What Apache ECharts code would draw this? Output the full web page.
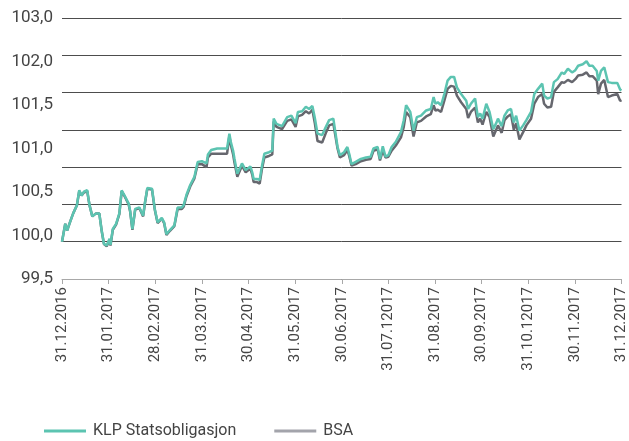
<!DOCTYPE html>
<html>
<head>
<meta charset="utf-8">
<script src="https://cdn.jsdelivr.net/npm/echarts@6/dist/echarts.min.js"></script>
<style>
    html, body { margin: 0; padding: 0; background: #fff; }
    #chart01 { width: 629px; height: 441px; }
</style>
</head>
<body>
<div id="chart01"></div>
<script>
// x-labels (one per month end), y-labels as printed in the original
var monthLabels = ['31.12.2016', '31.01.2017', '28.02.2017', '31.03.2017', '30.04.2017', '31.05.2017',
    '30.06.2017', '31.07.12017', '31.08.2017', '30.09.2017', '31.10.12017', '30.11.2017', '31.12.2017'];
var yLabels = ['99,5', '100,0', '100,5', '101,0', '101,5', '102,0', '103,0'];

// position in months since 31.12.2016
var months = [0.00, 0.07, 0.11, 0.17, 0.24, 0.32, 0.37, 0.42, 0.47, 0.54, 0.59, 0.65, 0.73, 0.80, 0.85, 0.90, 0.96,
    1.02, 1.04, 1.09, 1.16, 1.23, 1.28, 1.35, 1.43, 1.46, 1.51, 1.57, 1.66, 1.74, 1.78, 1.83, 1.93, 1.99,
    2.05, 2.14, 2.19, 2.24, 2.32, 2.41, 2.48, 2.57, 2.61, 2.67, 2.75, 2.84, 2.91,
    3.00, 3.10, 3.13, 3.20, 3.33, 3.43, 3.54, 3.59, 3.62, 3.67, 3.70, 3.76, 3.79, 3.86, 3.94,
    4.04, 4.08, 4.11, 4.18, 4.24, 4.29, 4.34, 4.44, 4.51, 4.54, 4.60, 4.72, 4.83, 4.92,
    5.01, 5.06, 5.15, 5.23, 5.30, 5.37, 5.42, 5.48, 5.58, 5.66, 5.73, 5.82, 5.91, 5.96,
    6.05, 6.12, 6.16, 6.21, 6.30, 6.41, 6.52, 6.62, 6.68, 6.77, 6.82, 6.88, 6.94,
    7.00, 7.07, 7.16, 7.27, 7.33, 7.38, 7.47, 7.54, 7.61, 7.70, 7.81, 7.91, 7.97,
    8.01, 8.06, 8.13, 8.20, 8.27, 8.34, 8.41, 8.47, 8.56, 8.67, 8.71, 8.77, 8.86, 8.92, 8.97,
    9.02, 9.10, 9.17, 9.25, 9.32, 9.35, 9.43, 9.49, 9.56, 9.63, 9.69, 9.74, 9.81, 9.89, 9.96,
    10.06, 10.13, 10.21, 10.30, 10.34, 10.41, 10.49, 10.55, 10.63, 10.72, 10.77, 10.85, 10.94,
    11.01, 11.07, 11.17, 11.25, 11.31, 11.38, 11.47, 11.50, 11.56, 11.63, 11.71, 11.79, 11.91, 11.97, 12.00];

var klp = [100.00, 100.24, 100.15, 100.26, 100.38, 100.49, 100.69, 100.62, 100.67, 100.69, 100.49, 100.34, 100.38, 100.38, 100.15, 99.97, 99.95,
    100.04, 99.96, 100.17, 100.24, 100.38, 100.69, 100.61, 100.51, 100.42, 100.17, 100.44, 100.46, 100.35, 100.53, 100.72, 100.71, 100.44,
    100.26, 100.32, 100.26, 100.10, 100.16, 100.22, 100.46, 100.46, 100.49, 100.63, 100.76, 100.87, 101.07,
    101.08, 101.05, 101.17, 101.23, 101.25, 101.25, 101.25, 101.45, 101.34, 101.22, 101.11, 100.91, 100.89, 101.05, 100.96,
    101.01, 100.93, 100.84, 100.84, 100.83, 101.02, 101.18, 101.20, 101.22, 101.65, 101.58, 101.55, 101.67, 101.69,
    101.59, 101.74, 101.75, 101.81, 101.78, 101.82, 101.67, 101.45, 101.43, 101.54, 101.63, 101.65, 101.27, 101.16,
    101.20, 101.27, 101.18, 101.04, 101.07, 101.11, 101.13, 101.14, 101.25, 101.27, 101.11, 101.28, 101.14,
    101.16, 101.27, 101.34, 101.47, 101.63, 101.83, 101.74, 101.49, 101.67, 101.69, 101.76, 101.78, 101.94,
    101.85, 101.87, 101.83, 101.98, 102.16, 102.21, 102.21, 102.07, 101.98, 101.89, 101.78, 101.85, 101.92, 101.67, 101.72,
    101.65, 101.85, 101.74, 101.51, 101.60, 101.65, 101.55, 101.69, 101.76, 101.78, 101.60, 101.69, 101.49, 101.56, 101.63,
    101.74, 101.98, 102.05, 102.12, 101.96, 101.92, 101.94, 102.14, 102.18, 102.27, 102.25, 102.32, 102.27,
    102.30, 102.36, 102.38, 102.42, 102.36, 102.36, 102.29, 102.16, 102.29, 102.34, 102.14, 102.13, 102.13, 102.04, 102.03];

var bsa = [100.00, 100.24, 100.15, 100.26, 100.38, 100.49, 100.68, 100.62, 100.66, 100.68, 100.49, 100.34, 100.38, 100.38, 100.15, 99.97, 99.94,
    100.03, 99.95, 100.16, 100.23, 100.37, 100.68, 100.60, 100.50, 100.41, 100.16, 100.43, 100.45, 100.34, 100.52, 100.71, 100.70, 100.43,
    100.25, 100.31, 100.25, 100.09, 100.15, 100.21, 100.44, 100.44, 100.47, 100.61, 100.74, 100.85, 101.04,
    101.04, 101.00, 101.13, 101.18, 101.18, 101.18, 101.18, 101.42, 101.30, 101.17, 101.06, 100.87, 100.86, 101.02, 100.93,
    100.98, 100.90, 100.80, 100.80, 100.78, 100.98, 101.13, 101.15, 101.17, 101.61, 101.54, 101.51, 101.62, 101.64,
    101.54, 101.68, 101.70, 101.75, 101.72, 101.77, 101.60, 101.35, 101.33, 101.46, 101.56, 101.58, 101.25, 101.13,
    101.16, 101.23, 101.15, 101.02, 101.04, 101.08, 101.10, 101.11, 101.22, 101.24, 101.09, 101.22, 101.13,
    101.14, 101.22, 101.29, 101.40, 101.54, 101.74, 101.67, 101.41, 101.60, 101.62, 101.68, 101.71, 101.83,
    101.76, 101.77, 101.74, 101.89, 102.05, 102.09, 102.08, 101.96, 101.87, 101.78, 101.66, 101.74, 101.80, 101.60, 101.65,
    101.57, 101.74, 101.67, 101.41, 101.51, 101.56, 101.46, 101.63, 101.68, 101.71, 101.50, 101.59, 101.37, 101.47, 101.56,
    101.65, 101.85, 101.94, 101.98, 101.85, 101.80, 101.81, 102.01, 102.07, 102.14, 102.13, 102.17, 102.14,
    102.18, 102.23, 102.24, 102.27, 102.22, 102.22, 102.16, 101.98, 102.12, 102.17, 101.94, 101.96, 101.98, 101.89, 101.90];

function pairs(xs, ys) {
    var out = [];
    for (var i = 0; i < xs.length; i++) {
        out.push([xs[i], ys[i]]);
    }
    return out;
}

function chart01(id) {
    var myChart = echarts.init(document.getElementById(id));
    var font = 'Roboto';
    var option = {
        animation: false,
        grid: {
            left: 62,
            right: 7,
            top: 18,
            bottom: 162
        },
        legend: {
            left: 44,
            top: 423,
            padding: 0,
            itemWidth: 42,
            itemHeight: 3,
            itemGap: 38,
            icon: 'rect',
            textStyle: {
                fontFamily: font,
                fontSize: 16,
                color: '#444444',
                padding: [0, 0, 0, 2]
            },
            data: [
                { name: 'KLP Statsobligasjon', itemStyle: { color: '#5cc4b1' } },
                { name: 'BSA', itemStyle: { color: '#a3a4ab' } }
            ]
        },
        xAxis: {
            type: 'value',
            min: 0,
            max: 12,
            interval: 1,
            axisLine: {
                show: true,
                onZero: false,
                lineStyle: { color: '#a8a8a8', width: 1 }
            },
            axisTick: {
                show: true,
                length: 5,
                lineStyle: { color: '#a8a8a8' }
            },
            splitLine: { show: false },
            axisLabel: {
                rotate: 90,
                margin: 8,
                fontFamily: font,
                fontSize: 15,
                color: '#444444',
                formatter: function (v) { return monthLabels[Math.round(v)]; }
            }
        },
        yAxis: [
            {
                type: 'value',
                min: 99.5,
                max: 103,
                interval: 0.5,
                axisLine: { show: false },
                axisTick: { show: false },
                axisLabel: { show: false },
                splitLine: {
                    show: true,
                    lineStyle: { color: '#4d4d4d', width: 1 }
                }
            },
            {
                // printed labels, spaced evenly like in the source file
                type: 'value',
                position: 'left',
                min: 0,
                max: 6,
                interval: 1,
                axisLine: { show: false },
                axisTick: { show: false },
                splitLine: { show: false },
                axisLabel: {
                    margin: 9,
                    fontFamily: font,
                    fontSize: 17,
                    color: '#444444',
                    formatter: function (v) { return yLabels[Math.round(v)]; }
                }
            }
        ],
        series: [
            {
                name: 'BSA',
                type: 'line',
                yAxisIndex: 0,
                showSymbol: false,
                lineStyle: { color: '#66676e', width: 2.5 },
                itemStyle: { color: '#66676e' },
                z: 2,
                data: pairs(months, bsa)
            },
            {
                name: 'KLP Statsobligasjon',
                type: 'line',
                yAxisIndex: 0,
                showSymbol: false,
                lineStyle: { color: '#5cc4b1', width: 2.5 },
                itemStyle: { color: '#5cc4b1' },
                z: 3,
                data: pairs(months, klp)
            }
        ]
    };

    myChart.setOption(option);
    return myChart;
}

var chartInit01 = chart01('chart01');
window.addEventListener('resize', function () {
    chartInit01.resize();
});
</script>
</body>
</html>
